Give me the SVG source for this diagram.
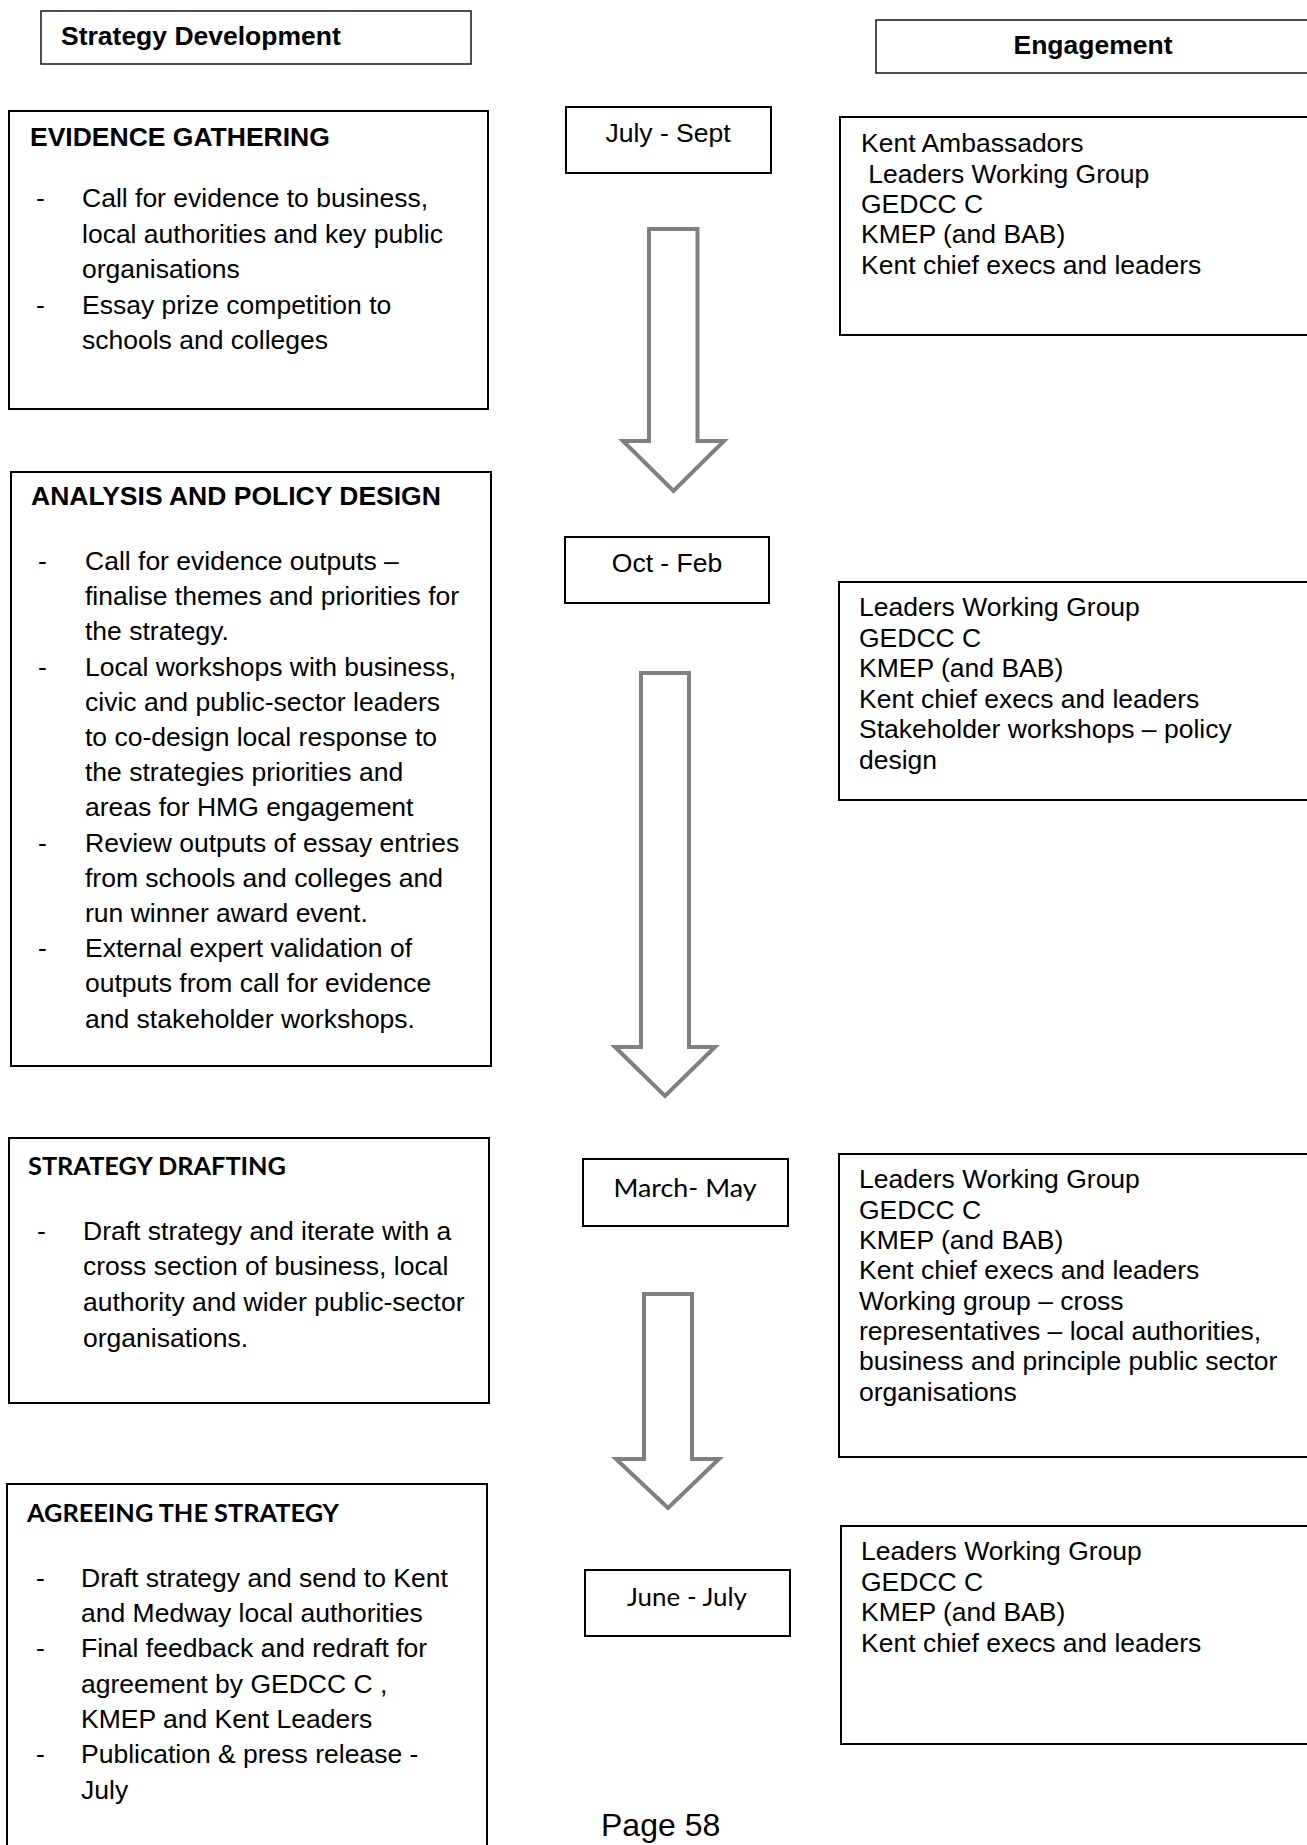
<svg xmlns="http://www.w3.org/2000/svg" width="1307" height="1845" viewBox="0 0 1307 1845">
<style>
.box{fill:#fff;stroke:#000;stroke-width:2}
.hbox{fill:#fff;stroke:#222;stroke-width:1.6}
.t{font-family:"Liberation Sans",Arial,sans-serif;font-size:26.5px;fill:#000}
.b{font-weight:bold}
.c{font-family:Lato,"Open Sans",sans-serif;font-size:25px;fill:#000}
.arrow{fill:#fff;stroke:#808080;stroke-width:4;stroke-linejoin:miter}
.pre{white-space:pre}
</style>
<rect width="1307" height="1845" fill="#fff"/>

<g id="connectors">
<polygon class="arrow" points="649,229 697.5,229 697.5,441 724,441 673.5,491 623,441 649,441"/>
<polygon class="arrow" points="641,673 689,673 689,1047 715,1047 665,1096 615,1047 641,1047"/>
<polygon class="arrow" points="644,1294 692,1294 692,1459 719,1459 668,1508 616,1459 644,1459"/>
</g>

<g id="header-strategy">
<rect class="hbox" x="41" y="11" width="430" height="53"/>
<text class="t b" x="61" y="45">Strategy Development</text>
</g>
<g id="header-engagement">
<rect class="hbox" x="876" y="20" width="444" height="53"/>
<text class="t b" x="1093" y="54" text-anchor="middle">Engagement</text>
</g>

<g id="evidence">
<rect class="box" x="9" y="111" width="479" height="298"/>
<text class="t b" x="30" y="146">EVIDENCE GATHERING</text>
<text class="t" x="36" y="207">-</text>
<text class="t" x="82" y="207">Call for evidence to business,</text>
<text class="t" x="82" y="242.5">local authorities and key public</text>
<text class="t" x="82" y="278">organisations</text>
<text class="t" x="36" y="313.5">-</text>
<text class="t" x="82" y="313.5">Essay prize competition to</text>
<text class="t" x="82" y="349">schools and colleges</text>
</g>

<g id="july-sept">
<rect class="box" x="566" y="107" width="205" height="66"/>
<text class="t" x="668" y="142" text-anchor="middle">July - Sept</text>
</g>

<g id="engage-1">
<rect class="box" x="840" y="117" width="480" height="218"/>
<text class="t" x="861" y="152">Kent Ambassadors</text>
<text class="t pre" x="861" y="182.5"> Leaders Working Group</text>
<text class="t" x="861" y="213">GEDCC C</text>
<text class="t" x="861" y="243">KMEP (and BAB)</text>
<text class="t" x="861" y="273.5">Kent chief execs and leaders</text>
</g>

<g id="analysis">
<rect class="box" x="11" y="472" width="480" height="594"/>
<text class="t b" x="31" y="505">ANALYSIS AND POLICY DESIGN</text>
<text class="t" x="38" y="570">-</text>
<text class="t" x="85" y="570">Call for evidence outputs –</text>
<text class="t" x="85" y="605.2">finalise themes and priorities for</text>
<text class="t" x="85" y="640.4">the strategy.</text>
<text class="t" x="38" y="675.6">-</text>
<text class="t" x="85" y="675.6">Local workshops with business,</text>
<text class="t" x="85" y="710.8">civic and public-sector leaders</text>
<text class="t" x="85" y="746">to co-design local response to</text>
<text class="t" x="85" y="781.2">the strategies priorities and</text>
<text class="t" x="85" y="816.4">areas for HMG engagement</text>
<text class="t" x="38" y="851.6">-</text>
<text class="t" x="85" y="851.6">Review outputs of essay entries</text>
<text class="t" x="85" y="886.8">from schools and colleges and</text>
<text class="t" x="85" y="922">run winner award event.</text>
<text class="t" x="38" y="957.2">-</text>
<text class="t" x="85" y="957.2">External expert validation of</text>
<text class="t" x="85" y="992.4">outputs from call for evidence</text>
<text class="t" x="85" y="1027.6">and stakeholder workshops.</text>
</g>

<g id="oct-feb">
<rect class="box" x="565" y="537" width="204" height="66"/>
<text class="t" x="667" y="572" text-anchor="middle">Oct - Feb</text>
</g>

<g id="engage-2">
<rect class="box" x="839" y="582" width="481" height="218"/>
<text class="t" x="859" y="616">Leaders Working Group</text>
<text class="t" x="859" y="646.5">GEDCC C</text>
<text class="t" x="859" y="677">KMEP (and BAB)</text>
<text class="t" x="859" y="707.5">Kent chief execs and leaders</text>
<text class="t" x="859" y="738">Stakeholder workshops – policy</text>
<text class="t" x="859" y="768.5">design</text>
</g>

<g id="drafting">
<rect class="box" x="9" y="1138" width="480" height="265"/>
<text class="c b" x="28" y="1175" textLength="258" lengthAdjust="spacingAndGlyphs">STRATEGY DRAFTING</text>
<text class="t" x="37" y="1239.5">-</text>
<text class="t" x="83" y="1239.5">Draft strategy and iterate with a</text>
<text class="t" x="83" y="1275.2">cross section of business, local</text>
<text class="t" x="83" y="1310.9">authority and wider public-sector</text>
<text class="t" x="83" y="1346.6">organisations.</text>
</g>

<g id="march-may">
<rect class="box" x="583" y="1159" width="205" height="67"/>
<text class="c" x="685" y="1197" text-anchor="middle" textLength="143" lengthAdjust="spacingAndGlyphs">March- May</text>
</g>

<g id="engage-3">
<rect class="box" x="839" y="1154" width="481" height="303"/>
<text class="t" x="859" y="1188.3">Leaders Working Group</text>
<text class="t" x="859" y="1218.6">GEDCC C</text>
<text class="t" x="859" y="1249">KMEP (and BAB)</text>
<text class="t" x="859" y="1279.3">Kent chief execs and leaders</text>
<text class="t" x="859" y="1309.7">Working group – cross</text>
<text class="t" x="859" y="1340">representatives – local authorities,</text>
<text class="t" x="859" y="1370.4">business and principle public sector</text>
<text class="t" x="859" y="1400.7">organisations</text>
</g>

<g id="agreeing">
<rect class="box" x="7" y="1484" width="480" height="380"/>
<text class="c b" x="27" y="1521.5" textLength="312" lengthAdjust="spacingAndGlyphs">AGREEING THE STRATEGY</text>
<text class="t" x="36" y="1586.7">-</text>
<text class="t" x="81" y="1586.7">Draft strategy and send to Kent</text>
<text class="t" x="81" y="1622">and Medway local authorities</text>
<text class="t" x="36" y="1657.3">-</text>
<text class="t" x="81" y="1657.3">Final feedback and redraft for</text>
<text class="t" x="81" y="1692.6">agreement by GEDCC C ,</text>
<text class="t" x="81" y="1727.9">KMEP and Kent Leaders</text>
<text class="t" x="36" y="1763.2">-</text>
<text class="t" x="81" y="1763.2">Publication &amp; press release -</text>
<text class="t" x="81" y="1798.5">July</text>
</g>

<g id="june-july">
<rect class="box" x="585" y="1570" width="205" height="66"/>
<text class="c" x="687" y="1606" text-anchor="middle" textLength="120" lengthAdjust="spacingAndGlyphs">June - July</text>
</g>

<g id="engage-4">
<rect class="box" x="841" y="1526" width="479" height="218"/>
<text class="t" x="861" y="1560">Leaders Working Group</text>
<text class="t" x="861" y="1590.6">GEDCC C</text>
<text class="t" x="861" y="1621.2">KMEP (and BAB)</text>
<text class="t" x="861" y="1651.8">Kent chief execs and leaders</text>
</g>

<g id="page-number">
<text class="t" x="601" y="1836" style="font-size:32px">Page 58</text>
</g>
</svg>
